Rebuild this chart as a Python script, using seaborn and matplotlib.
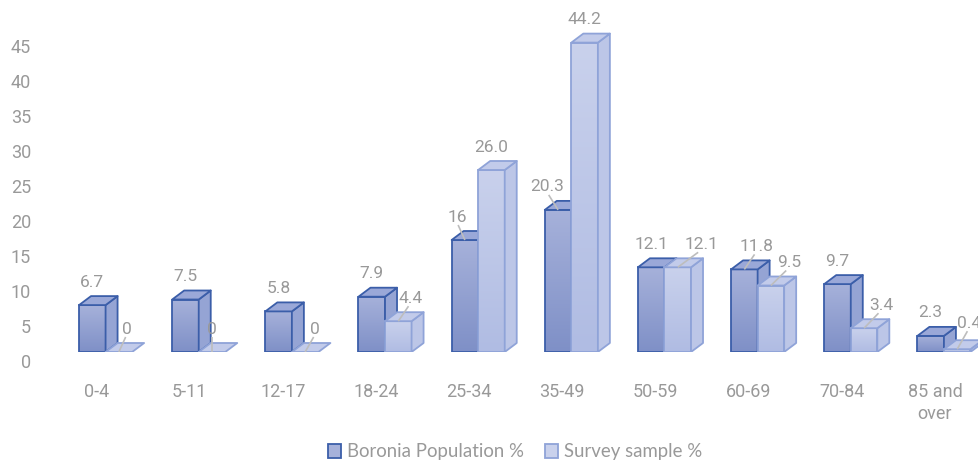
import numpy as np
import pandas as pd
import seaborn as sns
import matplotlib
matplotlib.use("Agg")
import matplotlib.pyplot as plt
from matplotlib.patches import Polygon, Patch
from matplotlib.transforms import ScaledTranslation
from matplotlib.colors import LinearSegmentedColormap

# ---- data -------------------------------------------------------------
age_groups = ["0-4", "5-11", "12-17", "18-24", "25-34", "35-49",
              "50-59", "60-69", "70-84", "85 and\nover"]
series_names = ["Boronia Population %", "Survey sample %"]
boronia_labels = ["6.7", "7.5", "5.8", "7.9", "16", "20.3", "12.1", "11.8", "9.7", "2.3"]
survey_labels = ["0", "0", "0", "4.4", "26.0", "44.2", "12.1", "9.5", "3.4", "0.4"]
boronia_pct = [float(s) for s in boronia_labels]
survey_pct = [float(s) for s in survey_labels]
y_ticks = list(range(0, 50, 5))

# ---- styling ----------------------------------------------------------
TEXT = "#999999"
LEADER = "#bdbdbd"
styles = {
    series_names[0]: dict(top="#a6b1da", bottom="#7f90c7", side="#95a4d4",
                          cap="#9aa8d8", edge="#3b5ea9"),
    series_names[1]: dict(top="#c9d1ec", bottom="#b0bce3", side="#bcc6e7",
                          cap="#c2cbea", edge="#8fa3d8"),
}
# label nudges in pixels (dx, dy, draw leader line)
boronia_nudge = [(0, 0, False)] * 4 + [(-8, 0, True), (-11, 0, True), (0, 0, False),
                                       (12, 0, True), (0, 0, False), (0, 0, False)]
survey_nudge = [(8, 0, True), (0, 0, True), (10, 0, True), (12, 0, True), (0, 0, False),
                (0, 0, False), (24, 0, True), (18, 0, True), (17, 0, True), (12, 3, True)]

DEPTH_X, DEPTH_Y = 12, 9   # pixels of the 3-D bar depth
LABEL_LIFT = DEPTH_Y + 14  # label centre above the front top edge, pixels

sns.set_theme(style="white")
plt.rcParams["font.family"] = ["Roboto", "DejaVu Sans"]

W, H, DPI = 979, 466, 100
fig = plt.figure(figsize=(W / DPI, H / DPI), dpi=DPI)
ax = fig.add_axes([59 / W, (H - 352) / H, (990.5 - 59) / W, 47 * 7 / H])

df = pd.DataFrame({
    "age": age_groups * 2,
    "pct": boronia_pct + survey_pct,
    "series": [series_names[0]] * len(age_groups) + [series_names[1]] * len(age_groups),
})
sns.barplot(data=df, x="age", y="pct", hue="series", order=age_groups,
            hue_order=series_names,
            palette=[styles[s]["bottom"] for s in series_names],
            width=0.57, gap=0, saturation=1, legend=False, ax=ax, errorbar=None)

ax.set_xlim(-0.5, len(age_groups) - 0.5)
ax.set_ylim(0, 47)
px_x = ax.bbox.width / (len(age_groups))
px_y = ax.bbox.height / 47
dxu, dyu = DEPTH_X / px_x, DEPTH_Y / px_y

grad = np.linspace(1, 0, 64).reshape(-1, 1)

for k, (name, cont) in enumerate(zip(series_names, ax.containers)):
    st = styles[name]
    cmap = LinearSegmentedColormap.from_list(name, [st["bottom"], st["top"]])
    base = 2 + k
    labels = boronia_labels if k == 0 else survey_labels
    nudges = boronia_nudge if k == 0 else survey_nudge
    for i, bar in enumerate(cont.patches):
        x0, w, h = bar.get_x(), bar.get_width(), bar.get_height()
        x1 = x0 + w
        bar.set_facecolor("none")
        bar.set_edgecolor(st["edge"])
        bar.set_linewidth(1.3)
        bar.set_zorder(base + 0.1)
        if h > 0:
            im = ax.imshow(grad, cmap=cmap, extent=[x0, x1, 0, h], aspect="auto",
                           zorder=base, interpolation="bilinear", vmin=0, vmax=1)
            im.set_clip_path(bar)
            side = Polygon([(x1, 0), (x1 + dxu, dyu), (x1 + dxu, h + dyu), (x1, h)],
                           closed=True, facecolor=st["side"], edgecolor=st["edge"],
                           lw=1.3, zorder=base + 0.2, joinstyle="round")
            ax.add_patch(side)
        cap = Polygon([(x0, h), (x1, h), (x1 + dxu, h + dyu), (x0 + dxu, h + dyu)],
                      closed=True, facecolor=st["cap"], edgecolor=st["edge"],
                      lw=1.3, zorder=base + 0.3, joinstyle="round")
        ax.add_patch(cap)

        ndx, ndy, leader = nudges[i]
        xc = x0 + w / 2
        ax.annotate(labels[i], xy=(xc, h), xytext=(ndx, LABEL_LIFT + ndy),
                    textcoords="offset pixels", ha="center", va="center",
                    fontsize=12.5, color=TEXT, zorder=6)
        if leader:
            # thin connector from just under the label to the bar's front top edge
            sx = xc + (ndx - 0.15 * ndx) / px_x
            sy = h + (LABEL_LIFT + ndy - 8) / px_y
            ax.plot([sx, xc], [sy, h], color=LEADER, lw=1.2, zorder=5.5,
                    solid_capstyle="butt")

ax.set_xlim(-0.5, len(age_groups) - 0.5)
ax.set_ylim(0, 47)
ax.set_yticks(y_ticks)
ax.set_yticklabels([str(t) for t in y_ticks])
ax.set_xlabel("")
ax.set_ylabel("")
for s in ax.spines.values():
    s.set_visible(False)
ax.tick_params(axis="y", length=0, pad=20, labelsize=13, labelcolor=TEXT)
ax.tick_params(axis="x", length=0, pad=22, labelsize=13, labelcolor=TEXT)
for lab in ax.get_yticklabels():
    lab.set_transform(lab.get_transform() + ScaledTranslation(0, -9 / DPI, fig.dpi_scale_trans))
for lab in ax.get_xticklabels():
    lab.set_linespacing(1.3)
    lab.set_transform(lab.get_transform() + ScaledTranslation(-9 / DPI, 0, fig.dpi_scale_trans))

handles = [Patch(facecolor=styles[s]["top"], edgecolor=styles[s]["edge"], lw=1.3)
           for s in series_names]
fig.legend(handles, series_names, loc="center", bbox_to_anchor=(515 / W, 1 - 452 / H),
           ncol=2, frameon=False, handlelength=0.72, handleheight=0.72,
           handletextpad=0.32, columnspacing=1.1,
           prop={"family": ["Lato", "DejaVu Sans"], "size": 13.4}, labelcolor=TEXT)

fig.savefig("out.png", dpi=DPI, facecolor="white")
